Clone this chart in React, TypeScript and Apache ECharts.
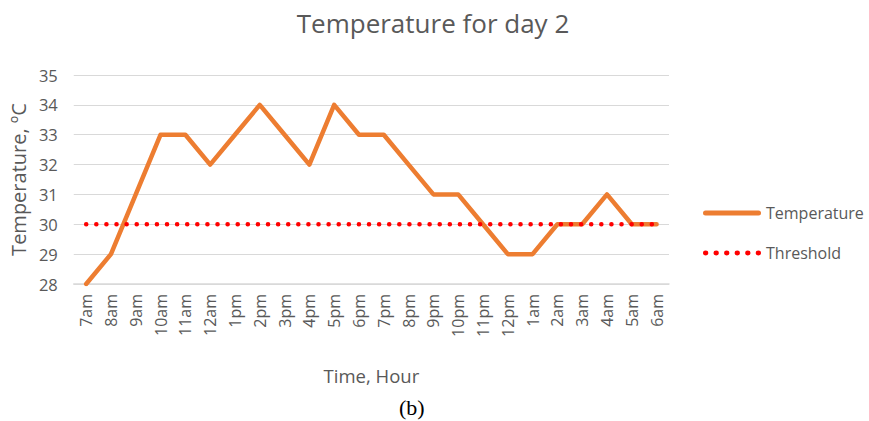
import React, { useEffect, useRef } from "react";
import * as echarts from "echarts";

const hours = ["7am","8am","9am","10am","11am","12am","1pm","2pm","3pm","4pm","5pm","6pm","7pm","8pm","9pm","10pm","11pm","12pm","1am","2am","3am","4am","5am","6am"];
const temperature = [28,29,31,33,33,32,33,34,33,32,34,33,33,32,31,31,30,29,29,30,30,31,30,30];
const threshold = [30,30,30,30,30,30,30,30,30,30,30,30,30,30,30,30,30,30,30,30,30,30,30,30];

const FONT = "'Open Sans', 'Noto Sans', sans-serif";
const GREY = "#595959";

const dotsIcon = (() => {
  let d = "path://";
  for (let i = 0; i < 6; i++) {
    const x = i * 10;
    d += `M${x},2.5a2.5,2.5 0 1,0 5,0a2.5,2.5 0 1,0 -5,0Z`;
  }
  return d;
})();
const barIcon = "path://M2.5,0L55.5,0A2.5,2.5 0 0,1 55.5,5L2.5,5A2.5,2.5 0 0,1 2.5,0Z";

export default function App() {
  const ref = useRef<HTMLDivElement>(null);
  useEffect(() => {
    if (!ref.current) return;
    const chart = echarts.init(ref.current, null, { renderer: "svg" });
    chart.setOption({
      animation: false,
      backgroundColor: "#ffffff",
      title: {
        text: "Temperature for day 2",
        left: 428,
        textAlign: "center",
        top: 5,
        textStyle: { fontFamily: FONT, fontSize: 26, fontWeight: "normal", color: GREY },
      },
      grid: { left: 73, right: 200, top: 75, bottom: 137 },
      legend: {
        orient: "vertical",
        left: 698,
        top: 200,
        itemWidth: 58,
        itemHeight: 5,
        itemGap: 24,
        symbolKeepAspect: false,
        textStyle: { fontFamily: FONT, fontSize: 16, color: GREY },
        data: [
          { name: "Temperature", icon: barIcon },
          { name: "Threshold", icon: dotsIcon },
        ],
      },
      xAxis: {
        type: "category",
        data: hours,
        boundaryGap: true,
        name: "Time, Hour",
        nameLocation: "middle",
        nameGap: 82,
        nameTextStyle: { fontFamily: FONT, fontSize: 18.5, color: GREY },
        axisLine: { lineStyle: { color: "#d9d9d9", width: 1.5 } },
        axisTick: { show: false },
        axisLabel: { rotate: 90, interval: 0, fontFamily: FONT, fontSize: 16, color: GREY, margin: 10 },
      },
      yAxis: {
        type: "value",
        min: 28,
        max: 35,
        interval: 1,
        name: "Temperature, ºC",
        nameLocation: "middle",
        nameGap: 42,
        nameTextStyle: { fontFamily: FONT, fontSize: 20, color: GREY },
        axisLine: { show: false },
        axisTick: { show: false },
        splitLine: { lineStyle: { color: "#d9d9d9", width: 1 } },
        axisLabel: { fontFamily: FONT, fontSize: 16.5, color: GREY, margin: 16 },
      },
      series: [
        {
          name: "Temperature",
          type: "line",
          data: temperature,
          symbol: "none",
          color: "#ED7D31",
          lineStyle: { color: "#ED7D31", width: 4.5, cap: "round", join: "round" },
          z: 2,
        },
        {
          name: "Threshold",
          type: "line",
          data: threshold,
          symbol: "none",
          color: "#FF0000",
          lineStyle: { color: "#FF0000", width: 4.5, type: [0.1, 10], cap: "round" },
          z: 3,
        },
      ],
      graphic: [
        {
          type: "text",
          left: 399,
          top: 396,
          style: { text: "(b)", font: "22px 'Liberation Serif', 'Times New Roman', serif", fill: "#000000" },
        },
      ],
    });
    return () => chart.dispose();
  }, []);
  return <div ref={ref} style={{ width: 869, height: 421, position: "absolute", left: 0, top: 0 }} />;
}
